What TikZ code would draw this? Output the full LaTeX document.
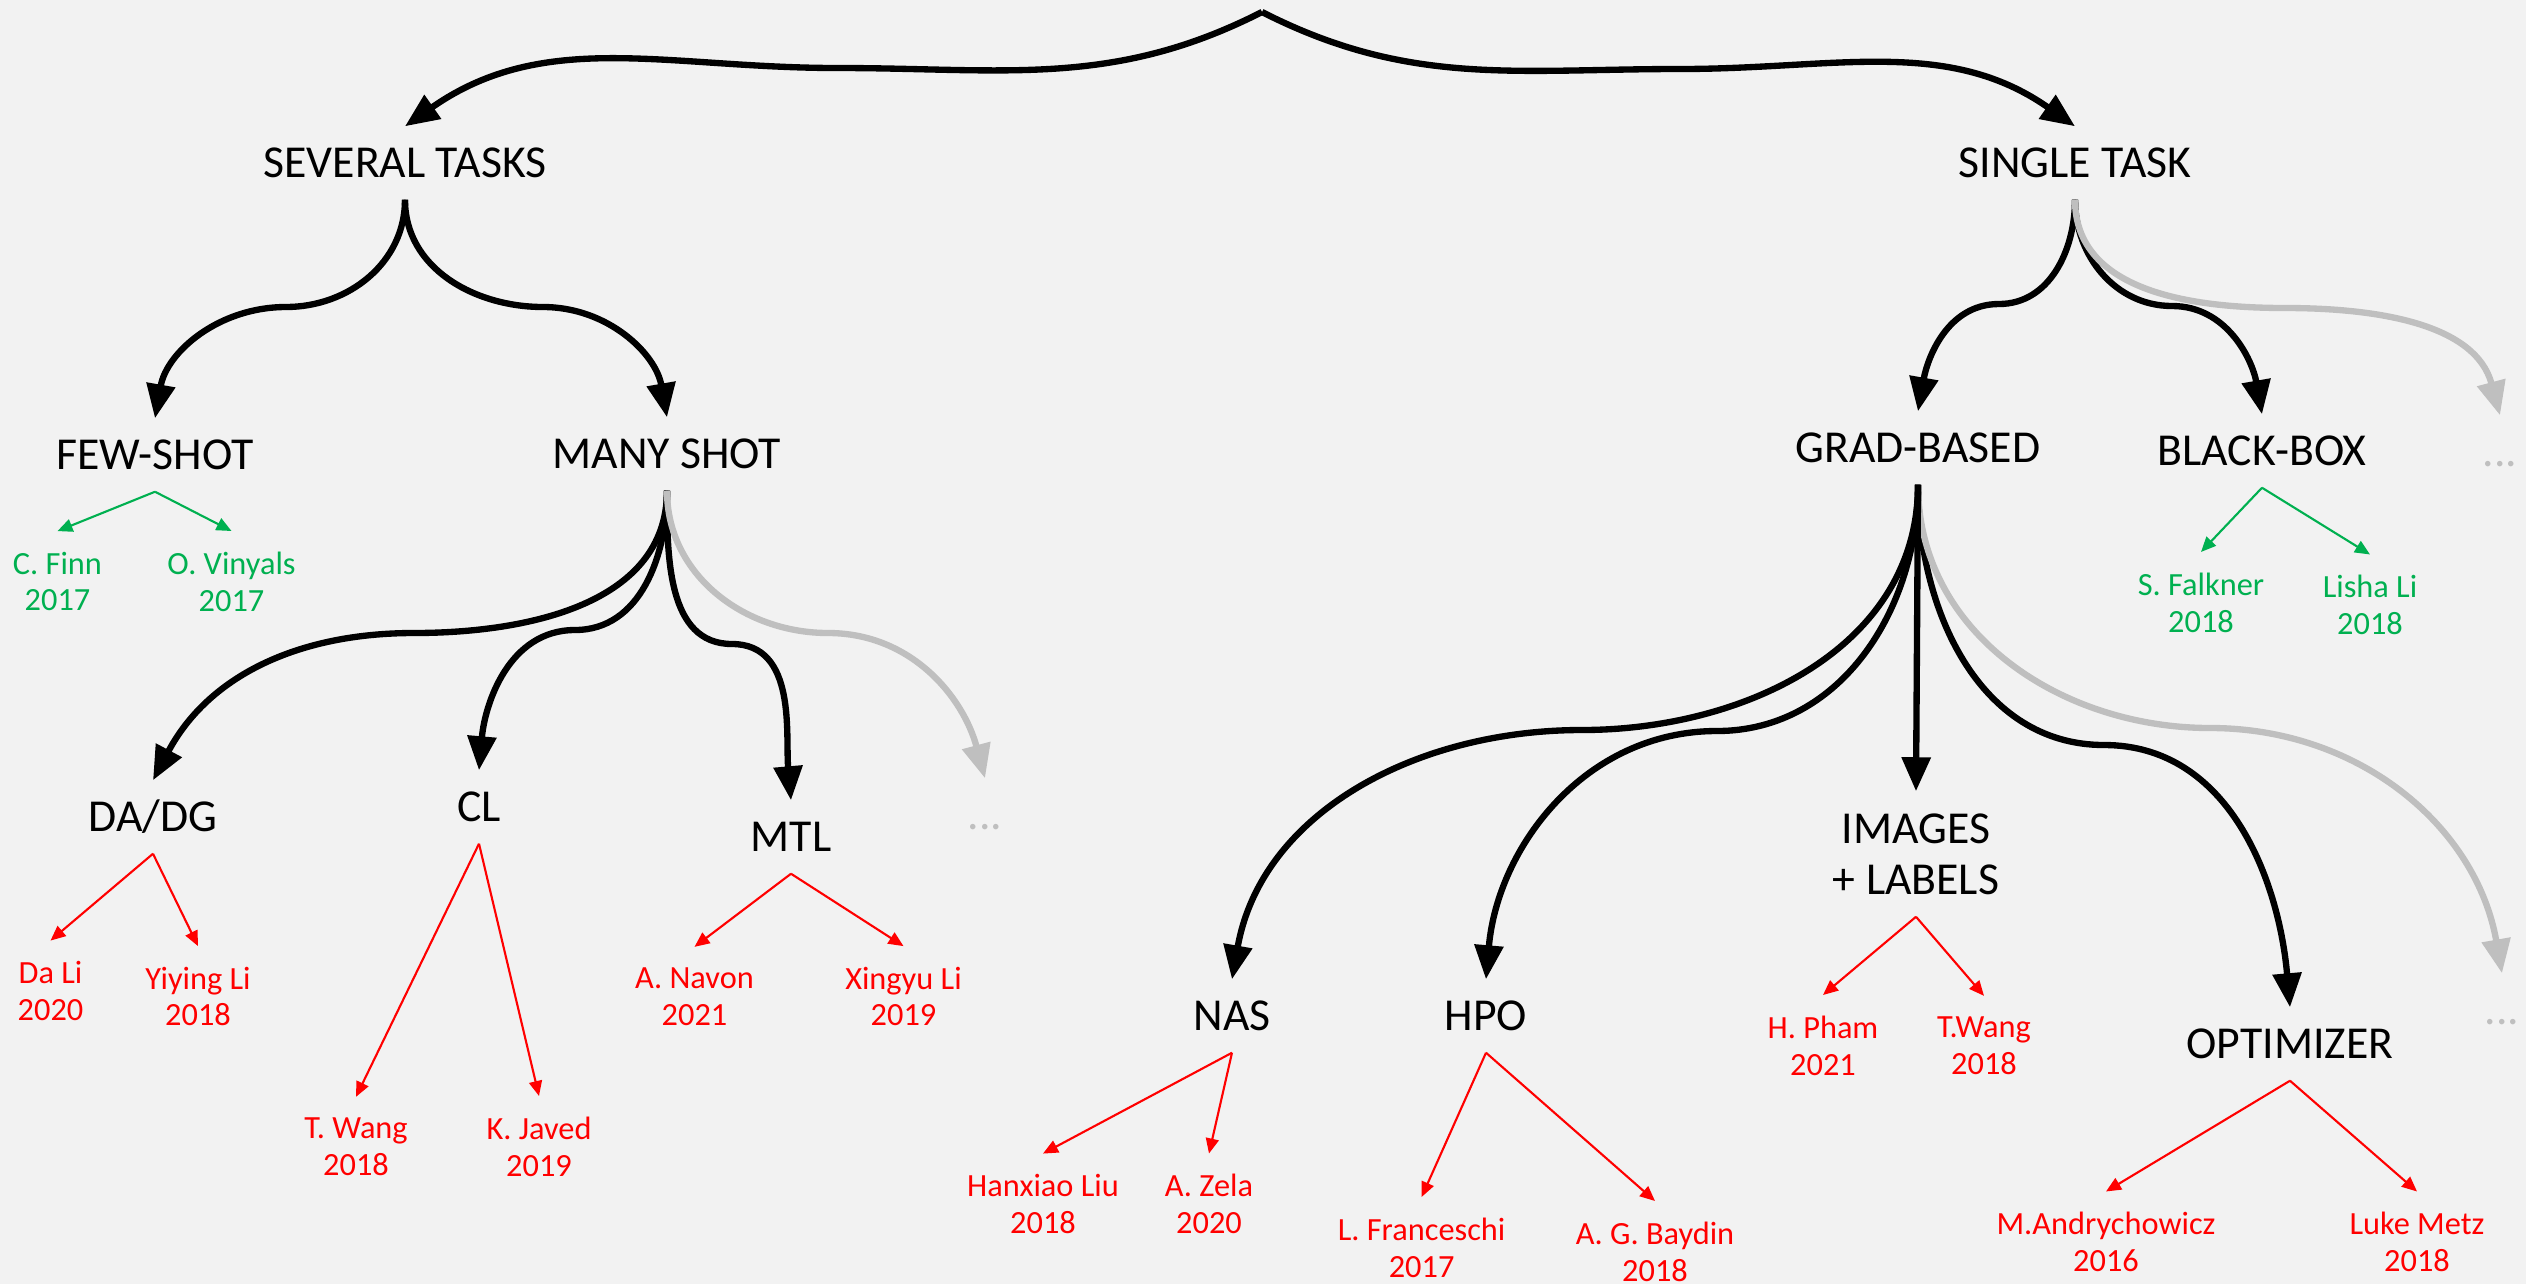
\documentclass[tikz,border=0pt]{standalone}
\usepackage{fontspec}
\setmainfont{Carlito}
\usetikzlibrary{arrows.meta}
\definecolor{bg}{HTML}{F2F2F2}
\definecolor{paperred}{HTML}{FF0000}
\definecolor{papergreen}{HTML}{00B050}
\definecolor{faintgray}{HTML}{BFBFBF}
\begin{document}
\begin{tikzpicture}[x=0.01cm,y=0.01cm,
    branch/.style={line width=1.8pt,-{Triangle[length=0.34cm,width=0.28cm]}},
    faint/.style={branch,draw=faintgray},
    cite/.style={line width=0.6pt,-{Triangle[length=0.15cm,width=0.13cm]}},
    topic/.style={font=\fontsize{13}{14.5}\selectfont,inner sep=0pt,align=center},
    word/.style={topic,text height=8.4pt,text depth=0pt,minimum height=0.72cm},
    paper/.style={font=\fontsize{9.2}{10.5}\selectfont,align=center,inner xsep=0pt,inner ysep=0.2cm}
    ]
\useasboundingbox (0,0) rectangle (2526,-1284);
\fill[bg] (0,0) rectangle (2526,-1284);
% topics
\coordinate (root) at (1262,-12);
\node[word] (sev)  at (405,-163)  {SEVERAL TASKS};
\node[word] (sgl)  at (2075,-163) {SINGLE TASK};
\node[word] (few)  at (155,-455)  {FEW-SHOT};
\node[word] (many) at (667,-454)  {MANY SHOT};
\node[word] (grad) at (1918,-448) {GRAD-BASED};
\node[word] (bbox) at (2262,-451) {BLACK-BOX};
\node[word] (dadg) at (153,-817)  {DA/DG};
\node[word] (cl)   at (479,-807)  {CL};
\node[word] (mtl)  at (791,-837)  {MTL};
\node[word] (nas)  at (1232,-1016) {NAS};
\node[word] (hpo)  at (1486,-1016) {HPO};
\node[topic,minimum height=1.24cm] (imgs) at (1916,-854) {IMAGES\\+ LABELS};
\node[word] (opt)  at (2290,-1044) {OPTIMIZER};
\node[word,text=faintgray] (d1) at (985,-815)  {...};
\node[word,text=faintgray] (d2) at (2500,-452) {...};
\node[word,text=faintgray] (d3) at (2502,-1010) {...};
% papers
\node[paper,text=papergreen] (finn)    at (57.5,-581.5)  {C. Finn\\2017};
\node[paper,text=papergreen] (vinyals) at (231.5,-581.5) {O. Vinyals\\2017};
\node[paper,text=papergreen] (falkner) at (2201,-602.5)  {S. Falkner\\2018};
\node[paper,text=papergreen] (lisha)   at (2370,-605)    {Lisha Li\\2018};
\node[paper,text=paperred] (dali)   at (50.5,-991)    {Da Li\\2020};
\node[paper,text=paperred] (yiying) at (198,-996.5)   {Yiying Li\\2018};
\node[paper,text=paperred] (wang1)  at (356,-1146.5)  {T. Wang\\2018};
\node[paper,text=paperred] (javed)  at (539,-1146.5)  {K. Javed\\2019};
\node[paper,text=paperred] (navon)  at (694.5,-996.5) {A. Navon\\2021};
\node[paper,text=paperred] (xingyu) at (903.5,-996.5) {Xingyu Li\\2019};
\node[paper,text=paperred] (hanxiao) at (1043,-1204)  {Hanxiao Liu\\2018};
\node[paper,text=paperred] (zela)    at (1209,-1204)  {A. Zela\\2020};
\node[paper,text=paperred] (franceschi) at (1421.6,-1247.5) {L. Franceschi\\2017};
\node[paper,text=paperred] (baydin)  at (1655,-1251.5) {A. G. Baydin\\2018};
\node[paper,text=paperred] (pham)    at (1823,-1045.5) {H. Pham\\2021};
\node[paper,text=paperred] (wang2)   at (1984,-1045.5) {T.Wang\\2018};
\node[paper,text=paperred] (andry)   at (2106,-1242)   {M.Andrychowicz\\2016};
\node[paper,text=paperred] (metz)    at (2417,-1242)   {Luke Metz\\2018};
% bends of the braces
\coordinate (msev) at (837,-68);   \coordinate (msgl) at (1680,-69);
\coordinate (mfew) at (286,-307);  \coordinate (mmany) at (543,-307);
\coordinate (mgrad) at (1999,-304); \coordinate (mbbox) at (2172,-306); \coordinate (md2) at (2285,-308);
\coordinate (mdadg) at (414,-633); \coordinate (mcl) at (575,-630); \coordinate (mmtl) at (732,-644); \coordinate (md1) at (828,-633);
\coordinate (mnas) at (1582,-730); \coordinate (mhpo) at (1717,-731); \coordinate (mopt) at (2104,-745); \coordinate (md3) at (2210,-728);
\draw[branch] (root) to[out=207,in=0] (msev) to[out=180,in=35] (sev.north);
\draw[branch] (root) to[out=-27,in=180] (msgl) to[out=0,in=145] (sgl.north);
\foreach \p/\m/\c/\a/\b/\e in {sev/mfew/few/0/180/80, sev/mmany/many/180/0/100,
    sgl/mgrad/grad/0/180/80, sgl/mbbox/bbox/180/0/100,
    many/mdadg/dadg/0/180/62, many/mcl/cl/0/180/85, many/mmtl/mtl/180/0/95,
    grad/mnas/nas/0/180/80, grad/mhpo/hpo/0/180/85, grad/mopt/opt/180/0/95}
  \draw[branch] (\p.south) to[out=-90,in=\a] (\m) to[out=\b,in=\e] (\c.north);
\foreach \p/\m/\c/\e in {sgl/md2/d2/105, many/md1/d1/105, grad/md3/d3/100}
  \draw[faint] (\p.south) to[out=-90,in=180] (\m) to[out=0,in=\e] (\c.north);
\draw[branch] (grad.south) -- (imgs.north);
% citations
\foreach \p/\c in {few/finn, few/vinyals, bbox/falkner, bbox/lisha}
  \draw[cite,papergreen] (\p.south) -- (\c.north);
\foreach \p/\c in {dadg/dali, dadg/yiying, cl/wang1, cl/javed, mtl/navon, mtl/xingyu,
    nas/hanxiao, nas/zela, hpo/franceschi, hpo/baydin, imgs/pham, imgs/wang2,
    opt/andry, opt/metz}
  \draw[cite,paperred] (\p.south) -- (\c.north);
\end{tikzpicture}
\end{document}
